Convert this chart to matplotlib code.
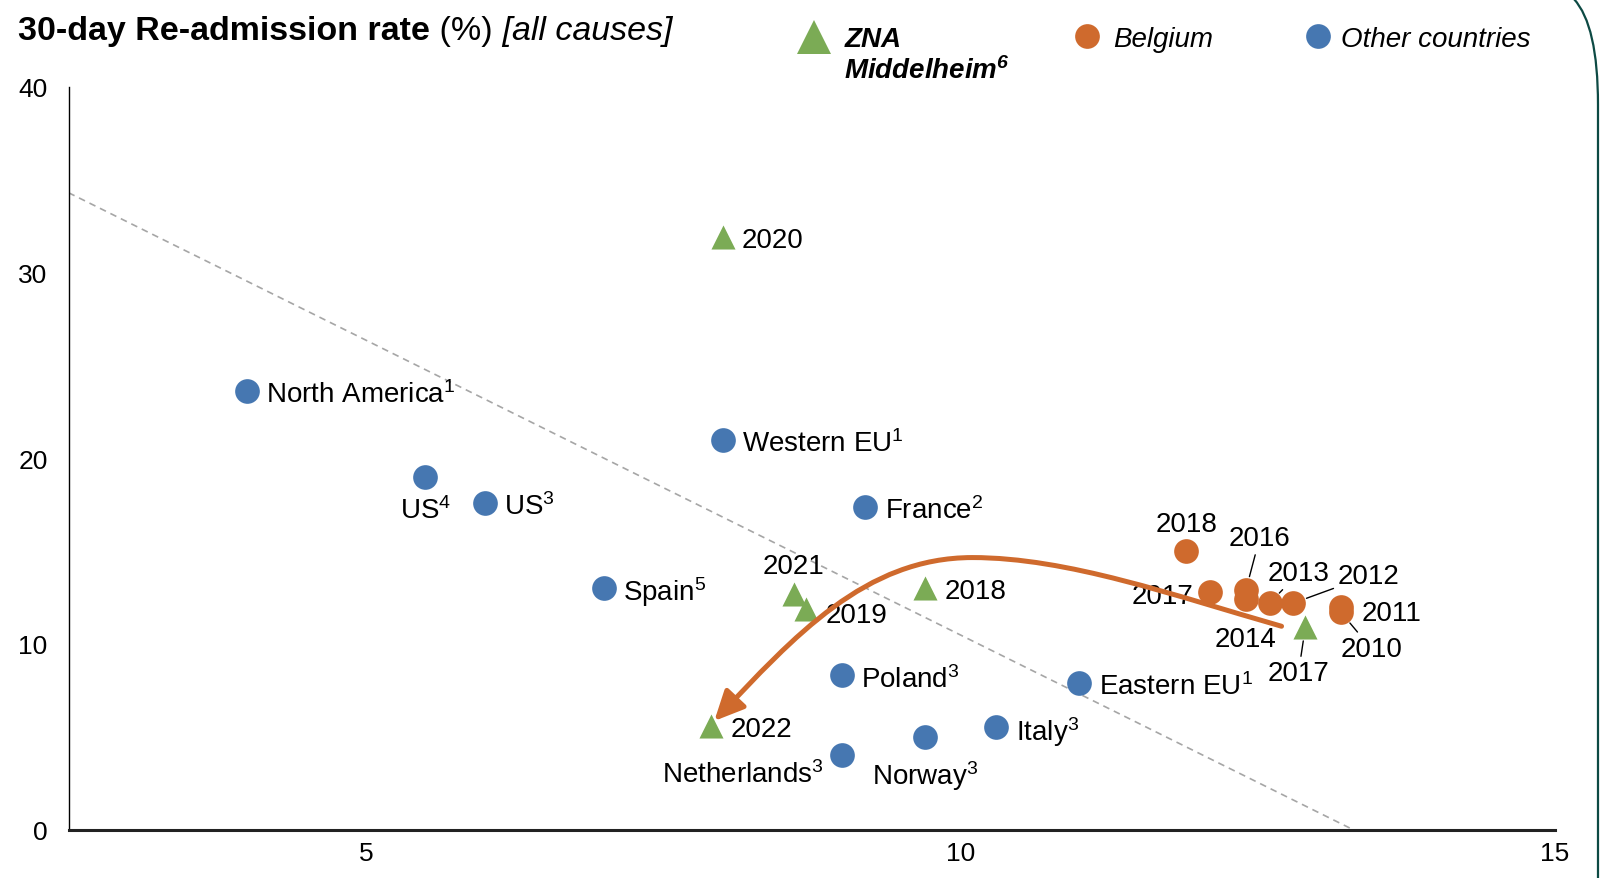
import matplotlib
matplotlib.use("Agg")
import matplotlib.pyplot as plt
from matplotlib.path import Path
from matplotlib.patches import FancyArrowPatch, PathPatch, ArrowStyle
from matplotlib.lines import Line2D

plt.rcParams['font.family'] = ['Liberation Sans', 'DejaVu Sans']
plt.rcParams['mathtext.fontset'] = 'custom'
plt.rcParams['mathtext.rm'] = 'Liberation Sans'
plt.rcParams['mathtext.it'] = 'Liberation Sans:italic'
plt.rcParams['mathtext.bf'] = 'Liberation Sans:bold:italic'

BLUE = "#4677B1"
ORANGE = "#CF6A2D"
GREEN = "#7BAB55"

# other countries
other_names = ["North America$^1$", "US$^4$", "US$^3$", "Spain$^5$", "Western EU$^1$",
               "France$^2$", "Poland$^3$", "Netherlands$^3$", "Norway$^3$", "Italy$^3$",
               "Eastern EU$^1$"]
other_x = [4.0, 5.5, 6.0, 7.0, 8.0, 9.2, 9.0, 9.0, 9.7, 10.3, 11.0]
other_y = [23.6, 19.0, 17.6, 13.0, 21.0, 17.4, 8.3, 4.0, 5.0, 5.5, 7.9]

# ZNA Middelheim
zna_years = ["2020", "2021", "2019", "2018", "2022", "2017"]
zna_x = [8.0, 8.6, 8.7, 9.7, 7.9, 12.9]
zna_y = [31.9, 12.7, 11.9, 13.0, 5.6, 10.9]

# Belgium
be_years = ["2018", "2017", "2016", "2014", "2013", "2012", "2011", "2010"]
be_x = [11.9, 12.1, 12.4, 12.4, 12.6, 12.8, 13.2, 13.2]
be_y = [15.0, 12.8, 12.9, 12.4, 12.2, 12.2, 12.0, 11.7]

# dashed reference line
trend_x = [2.5, 13.3]
trend_y = [34.3, 0.0]

# orange arrow, two cubic bezier pieces
arrow_pts = [(12.7, 10.95), (11.8, 12.6), (10.9, 14.65), (10.1, 14.65),
             (9.2, 14.65), (8.6, 10.4), (7.93, 5.85)]

# label placement: (dx pt, dy pt, ha, leader line)
other_pos = [(14, 0, 'left', False), (0, -22, 'center', False), (14, 0, 'left', False),
             (14, 0, 'left', False), (14, 0, 'left', False), (14, 0, 'left', False),
             (14, 0, 'left', False), (-13, -11, 'right', False), (0, -25, 'center', False),
             (14, 0, 'left', False), (14, 0, 'left', False)]
zna_pos = [(14, 0, 'left', False), (0, 22, 'center', False), (14, -2, 'left', False),
           (14, 0, 'left', False), (14, 0, 'left', False), (-5, -31, 'center', True)]
be_pos = [(0, 22, 'center', False), (-12, -1, 'right', False), (10, 40, 'center', True),
          (0, -26, 'center', False), (21, 24, 'center', True), (54, 22, 'center', True),
          (15, -2, 'left', False), (22, -24, 'center', True)]

fig = plt.figure(figsize=(16.02, 8.79), dpi=100)
ax = fig.add_axes([0.0428, 0.0551, 0.9279, 0.8449])
ax.set_xlim(2.5, 15)
ax.set_ylim(0, 40)

ax.plot(trend_x, trend_y, ls=(0, (4, 3)), color="#A6A6A6", lw=1.2, zorder=1)

ax.scatter(other_x, other_y, s=316, color=BLUE, zorder=3, linewidths=0)
ax.scatter(be_x, be_y, s=316, color=ORANGE, zorder=3, linewidths=0)
ax.scatter(zna_x, zna_y, s=300, marker='^', color=GREEN, zorder=3, linewidths=0)


def put_labels(names, xs, ys, pos):
    for n, x, y, (dx, dy, ha, lead) in zip(names, xs, ys, pos):
        kw = {}
        if lead:
            kw['arrowprops'] = dict(arrowstyle='-', color='black', lw=1,
                                    shrinkA=1, shrinkB=10)
        ax.annotate(n, (x, y), xytext=(dx, dy - 2.3), textcoords='offset points',
                    ha=ha, va='center', fontsize=20, zorder=2, **kw)


put_labels(other_names, other_x, other_y, other_pos)
put_labels(zna_years, zna_x, zna_y, zna_pos)
put_labels(be_years, be_x, be_y, be_pos)

codes = [Path.MOVETO] + [Path.CURVE4] * 6
arrow = FancyArrowPatch(path=Path(arrow_pts, codes),
                        arrowstyle=ArrowStyle('-|>', head_length=18, head_width=8.5),
                        color=ORANGE, lw=3.6, mutation_scale=1, zorder=5)
ax.add_patch(arrow)

for s in ['top', 'right']:
    ax.spines[s].set_visible(False)
ax.spines['left'].set_linewidth(1.0)
ax.spines['bottom'].set_linewidth(2.2)
ax.spines['bottom'].set_color('#222222')
ax.set_xticks([5, 10, 15])
ax.set_yticks([0, 10, 20, 30, 40])
ax.tick_params(axis='both', length=0, labelsize=19)
ax.tick_params(axis='y', pad=15)
ax.tick_params(axis='x', pad=8.5)

# title in three styles
fig.canvas.draw()
r = fig.canvas.get_renderer()
tx = 0.0115
for s, w, st in [("30-day Re-admission rate", 'bold', 'normal'),
                 (" (%)", 'normal', 'normal'),
                 (" [all causes]", 'normal', 'italic')]:
    t = fig.text(tx, 0.9545, s, fontsize=24.5, fontweight=w, style=st, va='baseline')
    tx = fig.transFigure.inverted().transform((t.get_window_extent(r).x1, 0))[0]

# legend
fig.add_artist(Line2D([0.508], [0.957], marker='^', markersize=24, color=GREEN,
                      markeredgewidth=0, transform=fig.transFigure))
fig.text(0.527, 0.9465, "ZNA", fontsize=20, fontweight='bold', style='italic', va='baseline')
fig.text(0.527, 0.9105, "Middelheim$^{\\mathbf{6}}$", fontsize=20, fontweight='bold',
         style='italic', va='baseline')
fig.add_artist(Line2D([0.6786], [0.958], marker='o', markersize=17.8, color=ORANGE,
                      markeredgewidth=0, transform=fig.transFigure))
fig.text(0.695, 0.9465, "Belgium", fontsize=20, style='italic', va='baseline')
fig.add_artist(Line2D([0.8227], [0.958], marker='o', markersize=17.8, color=BLUE,
                      markeredgewidth=0, transform=fig.transFigure))
fig.text(0.8368, 0.9465, "Other countries", fontsize=20, style='italic', va='baseline')

# frame edge on the right
frame = Path([(0.9825, 1.0), (0.9975, 0.97), (0.9975, 0.88), (0.9975, 0.0)],
             [Path.MOVETO, Path.CURVE3, Path.CURVE3, Path.LINETO])
fig.add_artist(PathPatch(frame, transform=fig.transFigure, fill=False,
                         edgecolor='#0D4A44', lw=1.6))

fig.savefig("out.png", dpi=100)
